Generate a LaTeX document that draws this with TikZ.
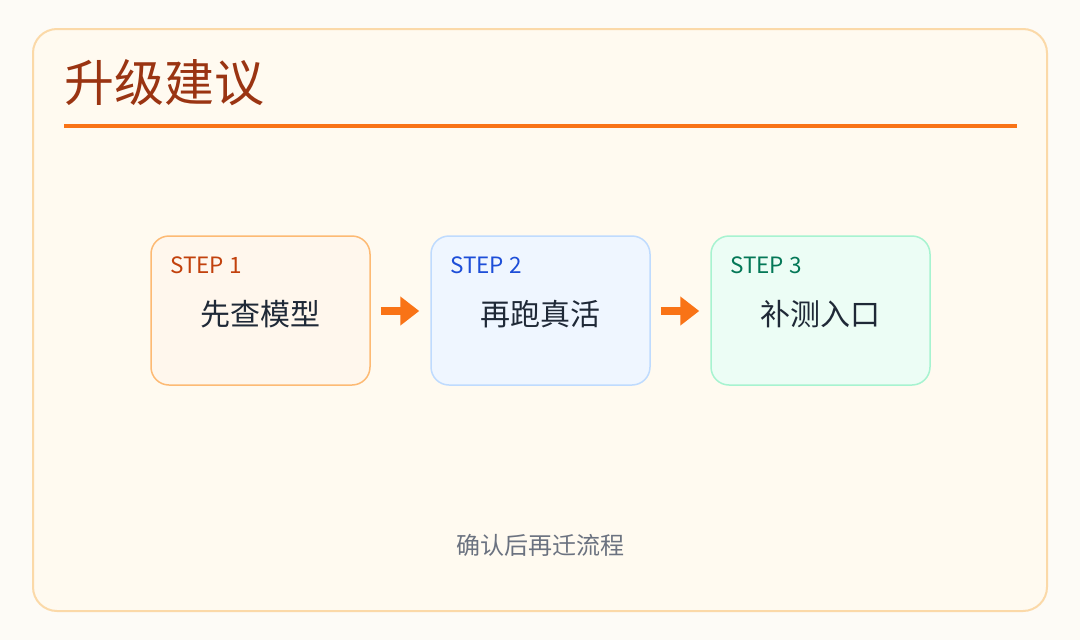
\documentclass[tikz,border=0pt]{standalone}
\usepackage{fontspec}
\setmainfont{Noto Sans CJK SC}
\newfontfamily\cjk{Noto Sans CJK SC}
\usetikzlibrary{arrows.meta}
\definecolor{pagebg}{HTML}{FDFBF6}
\definecolor{cardbg}{HTML}{FFFAF0}
\definecolor{cardbd}{HTML}{FBD9A8}
\definecolor{titlec}{HTML}{9A3412}
\definecolor{rulec}{HTML}{F97316}
\definecolor{aonefill}{HTML}{FFF7ED}
\definecolor{aonebd}{HTML}{FDBA74}
\definecolor{aonetx}{HTML}{C2410C}
\definecolor{atwofill}{HTML}{EFF6FF}
\definecolor{atwobd}{HTML}{BFDBFE}
\definecolor{atwotx}{HTML}{1D4ED8}
\definecolor{athreefill}{HTML}{ECFDF5}
\definecolor{athreebd}{HTML}{A7F3D0}
\definecolor{athreetx}{HTML}{047857}
\definecolor{bodytx}{HTML}{1F2937}
\definecolor{foottx}{HTML}{6B7280}
\tikzset{
  stepbox/.style={draw, line width=1.5pt, rounded corners=18pt, minimum width=219pt, minimum height=149pt, inner sep=0pt},
  steplabel/.style={anchor=west, font=\cjk\fontsize{22.5}{22.5}\selectfont, inner sep=0pt},
  stepmain/.style={font=\cjk\fontsize{30}{30}\selectfont, text=bodytx, inner sep=0pt},
  flowarrow/.style={draw=rulec, line width=8pt, -{Triangle[length=19pt,width=28pt]}, shorten <=10pt, shorten >=11pt},
}
\begin{document}
\begin{tikzpicture}[x=1pt,y=-1pt]
\useasboundingbox (0,0) rectangle (1080,640);
\fill[pagebg] (0,0) rectangle (1080,640);
\draw[draw=cardbd, fill=cardbg, line width=2pt, rounded corners=24pt] (33,29) rectangle (1047,611);
\node[anchor=base west, inner sep=0pt, text=titlec, font=\cjk\fontsize{50}{50}\selectfont] (title) at (64,101) {升级建议};
\coordinate (rl) at (64,126);
\coordinate (rr) at (1017,126);
\draw[rulec, line width=4pt] (rl) -- (rr);

\node[stepbox, draw=aonebd, fill=aonefill] (s1) at (260.5,310.5) {};
\node[stepbox, draw=atwobd, fill=atwofill] (s2) at (540.5,310.5) {};
\node[stepbox, draw=athreebd, fill=athreefill] (s3) at (820.5,310.5) {};

\node[steplabel, text=aonetx] (l1) at (170,265) {STEP 1};
\node[steplabel, text=atwotx] (l2) at (450,265) {STEP 2};
\node[steplabel, text=athreetx] (l3) at (730,265) {STEP 3};

\node[stepmain] (m1) at (260,314) {先查模型};
\node[stepmain] (m2) at (540,314) {再跑真活};
\node[stepmain] (m3) at (820,314) {补测入口};

\draw[flowarrow] (s1.east |- 0,311) -- (s2.west |- 0,311);
\draw[flowarrow] (s2.east |- 0,311) -- (s3.west |- 0,311);

\node[inner sep=0pt, text=foottx, font=\cjk\fontsize{24}{24}\selectfont] (foot) at (540,545) {确认后再迁流程};
\end{tikzpicture}
\end{document}
